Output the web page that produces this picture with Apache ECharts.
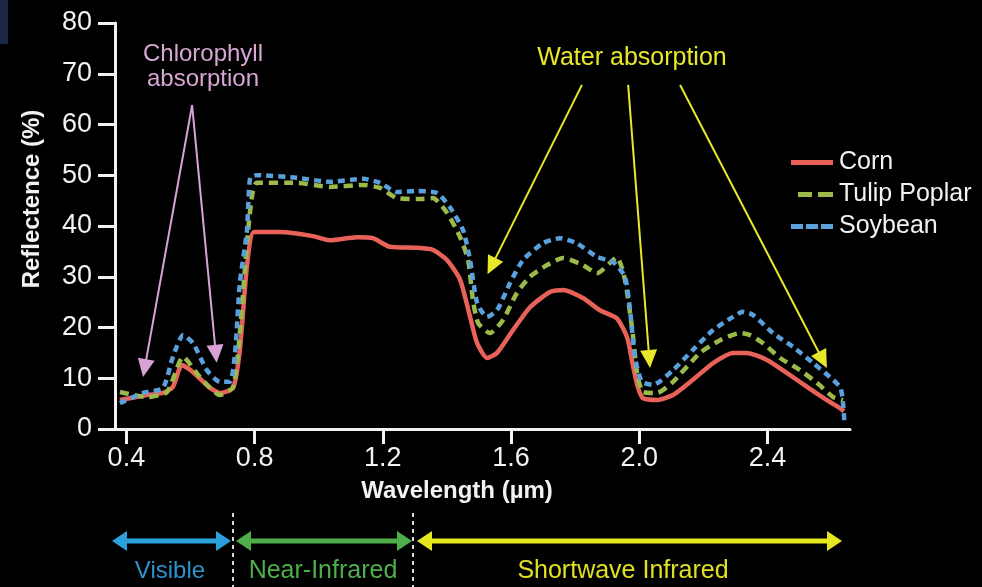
<!DOCTYPE html>
<html>
<head>
<meta charset="utf-8">
<script src="https://cdn.jsdelivr.net/npm/echarts@6/dist/echarts.min.js"></script>
<style>
  html, body { margin: 0; padding: 0; background: #000; }
  #chart { width: 982px; height: 587px; }
</style>
</head>
<body>
<div id="chart"></div>
<script>
// Tick labels on the wavelength axis (µm)
const xTicks = [0.4, 0.8, 1.2, 1.6, 2.0, 2.4];

// Corn reflectance spectrum
const cornWavelength = [0.380,0.464,0.514,0.545,0.573,0.608,0.661,0.692,0.733,0.754,0.776,0.798,0.879,0.982,1.035,1.119,1.169,1.222,1.306,1.356,1.400,1.441,1.472,1.494,1.525,1.556,1.606,1.659,1.721,1.762,1.824,1.877,1.930,1.962,1.980,1.995,2.011,2.055,2.105,2.167,2.230,2.292,2.336,2.398,2.461,2.523,2.585,2.626,2.638];
const cornReflectance = [5.7,6.7,7.1,8.3,12.6,11.2,8.1,7.1,8.1,15.6,32.0,38.8,38.8,38.0,37.2,37.8,37.6,35.9,35.7,35.3,33.3,29.4,22.1,16.9,14.0,15.0,19.5,24.0,27.0,27.4,25.8,23.4,21.8,18.0,12.5,8.3,6.1,5.7,6.7,9.7,13.0,15.0,15.0,13.6,11.0,8.3,5.7,4.1,3.5];

// Tulip poplar reflectance spectrum
const poplarWavelength = [0.380,0.464,0.527,0.577,0.630,0.692,0.733,0.754,0.776,0.792,0.807,0.932,1.035,1.138,1.191,1.244,1.306,1.356,1.400,1.441,1.466,1.481,1.497,1.534,1.575,1.618,1.659,1.712,1.762,1.824,1.868,1.930,1.955,1.977,1.993,2.011,2.055,2.105,2.189,2.252,2.314,2.345,2.386,2.439,2.501,2.554,2.604,2.635];
const poplarReflectance = [7.3,6.3,7.3,14.2,10.2,6.7,8.3,18.9,36.6,46.0,48.5,48.5,47.7,48.1,47.5,45.5,45.3,45.5,42.6,37.8,33.3,25.4,20.9,18.9,21.5,26.8,30.0,32.3,33.7,32.3,30.7,33.8,29.4,20.0,11.0,7.3,7.1,9.3,15.0,17.5,18.9,18.5,16.9,14.0,11.6,9.1,6.3,5.7];

// Soybean reflectance spectrum
const soyWavelength = [0.380,0.452,0.514,0.545,0.577,0.608,0.651,0.692,0.723,0.739,0.754,0.776,0.786,0.807,0.932,1.035,1.138,1.191,1.244,1.306,1.369,1.409,1.450,1.472,1.494,1.525,1.556,1.597,1.637,1.699,1.752,1.805,1.868,1.918,1.955,1.971,1.986,2.008,2.043,2.105,2.167,2.230,2.292,2.323,2.354,2.417,2.479,2.542,2.595,2.626,2.634,2.640];
const soyReflectance = [5.1,7.1,8.1,14.2,18.5,16.9,11.6,9.3,9.3,15.0,28.8,39.0,49.5,50.0,49.5,48.7,49.3,48.5,46.7,46.9,46.5,43.7,39.2,33.3,24.8,22.1,23.4,28.8,33.3,36.6,37.6,36.6,33.9,32.9,30.0,23.4,14.2,9.3,8.7,11.6,15.6,19.5,22.1,23.1,22.5,18.9,16.2,13.0,10.2,8.3,6.0,1.0];

// Absorption pointers: [from wavelength, from %, to wavelength, to %]
const chlorophyllPointers = [[0.605, 63.8, 0.457, 12.0], [0.605, 63.8, 0.679, 14.8]];
const waterPointers = [[1.821, 67.8, 1.539, 32.1], [1.965, 67.8, 2.031, 13.8], [2.127, 67.8, 2.572, 13.6]];

const FONT = "'Liberation Sans', Arial, sans-serif";
const WHITE = '#f2f2f2';
const CORN = '#e8625a', POPLAR = '#9cba4a', SOY = '#5aa0dc';

const zip = (xs, ys) => xs.map((x, i) => [x, ys[i]]);

function pointerLines(list, color) {
  return list.map(p => [
    { coord: [p[0], p[1]], lineStyle: { color: color, width: 2, type: 'solid' } },
    { coord: [p[2], p[3]] }
  ]);
}

// Double-headed arrow for the spectral band strip below the plot
function bandArrow(x1, x2, y, color) {
  const head = 15, half = 10;
  return [
    { type: 'line', shape: { x1: x1 + head - 2, y1: y, x2: x2 - head + 2, y2: y }, style: { stroke: color, lineWidth: 5 } },
    { type: 'polygon', shape: { points: [[x1, y], [x1 + head, y - half], [x1 + head, y + half]] }, style: { fill: color } },
    { type: 'polygon', shape: { points: [[x2, y], [x2 - head, y - half], [x2 - head, y + half]] }, style: { fill: color } }
  ];
}

// Legend swatches: solid bar, two dashes, three dashes (42 x 5 box)
const legendIcons = {
  'Corn': 'path://M0,0H42V5H0Z',
  'Tulip Poplar': 'path://M0,0M7,0H21V5H7ZM27,0H42V5H27Z',
  'Soybean': 'path://M0,0H12V5H0ZM15,0H27V5H15ZM30,0H42V5H30Z'
};

const chart = echarts.init(document.getElementById('chart'), null, { renderer: 'canvas' });

const graphics = [
  { type: 'rect', shape: { x: 0, y: 0, width: 8, height: 44 }, style: { fill: '#1c2642' } },
  { type: 'text', x: 32, y: 199, rotation: Math.PI / 2,
    style: { text: 'Reflectence (%)', fill: WHITE, font: 'bold 24px ' + FONT, textAlign: 'center', textVerticalAlign: 'middle' } },
  { type: 'text', x: 457, y: 491,
    style: { text: 'Wavelength (µm)', fill: WHITE, font: 'bold 24px ' + FONT, textAlign: 'center', textVerticalAlign: 'middle' } },
  { type: 'text', x: 203, y: 67,
    style: { text: 'Chlorophyll\nabsorption', fill: '#d6a7d2', font: '24px ' + FONT, lineHeight: 25, textAlign: 'center', textVerticalAlign: 'middle' } },
  { type: 'text', x: 632, y: 58,
    style: { text: 'Water absorption', fill: '#e8e82a', font: '25px ' + FONT, textAlign: 'center', textVerticalAlign: 'middle' } },
  { type: 'line', shape: { x1: 233, y1: 513, x2: 233, y2: 587 }, style: { stroke: '#d8d8d8', lineWidth: 2, lineDash: [4, 4] } },
  { type: 'line', shape: { x1: 413, y1: 513, x2: 413, y2: 587 }, style: { stroke: '#d8d8d8', lineWidth: 2, lineDash: [4, 4] } },
  ...bandArrow(112, 231, 541, '#2ba0dc'),
  ...bandArrow(236, 412, 541, '#4fae4a'),
  ...bandArrow(417, 842, 541, '#e6e620'),
  { type: 'text', x: 170, y: 571, style: { text: 'Visible', fill: '#2e92cc', font: '24px ' + FONT, textAlign: 'center', textVerticalAlign: 'middle' } },
  { type: 'text', x: 323, y: 571, style: { text: 'Near-Infrared', fill: '#4fae4a', font: '25px ' + FONT, textAlign: 'center', textVerticalAlign: 'middle' } },
  { type: 'text', x: 623, y: 571, style: { text: 'Shortwave Infrared', fill: '#e0e022', font: '25px ' + FONT, textAlign: 'center', textVerticalAlign: 'middle' } }
];

chart.setOption({
  backgroundColor: '#000000',
  animation: false,
  grid: { left: 115, right: 132, top: 23, bottom: 158, containLabel: false },
  legend: {
    orient: 'vertical',
    left: 786,
    top: 145,
    itemWidth: 42,
    itemHeight: 5,
    itemGap: 7,
    data: ['Corn', 'Tulip Poplar', 'Soybean'].map(n => ({ name: n, icon: legendIcons[n] })),
    textStyle: { color: WHITE, fontSize: 25, lineHeight: 25, fontFamily: FONT, padding: [0, 0, 0, 1] }
  },
  xAxis: {
    type: 'value',
    min: 0.3645,
    max: 2.657,
    axisLine: { show: true, onZero: false, lineStyle: { color: WHITE, width: 3 } },
    axisTick: { show: true, length: 15, customValues: xTicks, lineStyle: { color: WHITE, width: 3 } },
    axisLabel: { customValues: xTicks, color: WHITE, fontSize: 27, fontFamily: FONT, margin: 16,
                 formatter: v => v.toFixed(1) },
    splitLine: { show: false }
  },
  yAxis: {
    type: 'value',
    min: 0,
    max: 80,
    interval: 10,
    axisLine: { show: true, lineStyle: { color: WHITE, width: 3 } },
    axisTick: { show: true, length: 17, lineStyle: { color: WHITE, width: 3 } },
    axisLabel: { color: WHITE, fontSize: 27, fontFamily: FONT, margin: 23 },
    splitLine: { show: false }
  },
  graphic: graphics,
  series: [
    {
      name: 'Corn', type: 'line', data: zip(cornWavelength, cornReflectance),
      symbol: 'none', showSymbol: false, smooth: 0.2,
      lineStyle: { color: CORN, width: 4.5 }, itemStyle: { color: CORN }, z: 2,
      markLine: {
        silent: true, animation: false,
        symbol: ['none', 'triangle'], symbolSize: [17, 18],
        label: { show: false },
        data: pointerLines(chlorophyllPointers, '#d9a2d6').concat(pointerLines(waterPointers, '#e8e82a'))
      }
    },
    {
      name: 'Tulip Poplar', type: 'line', data: zip(poplarWavelength, poplarReflectance),
      symbol: 'none', showSymbol: false, smooth: 0.2,
      lineStyle: { color: POPLAR, width: 4.5, type: [9, 6] }, itemStyle: { color: POPLAR }, z: 3
    },
    {
      name: 'Soybean', type: 'line', data: zip(soyWavelength, soyReflectance),
      symbol: 'none', showSymbol: false, smooth: 0.2,
      lineStyle: { color: SOY, width: 4.5, type: [7, 5] }, itemStyle: { color: SOY }, z: 4
    }
  ]
});
</script>
</body>
</html>
